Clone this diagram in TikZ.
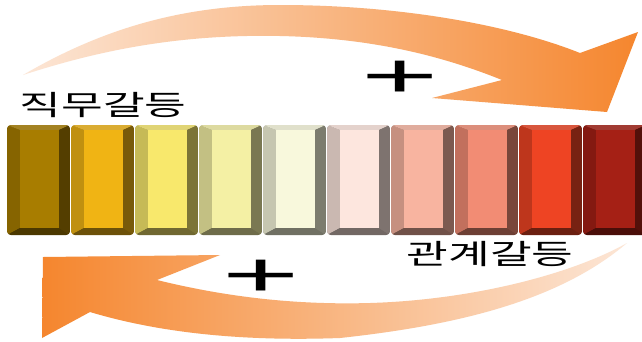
\documentclass[tikz,border=0pt]{standalone}
\usepackage{fontspec}
\newfontfamily\krfont{Noto Sans CJK KR}
\newfontfamily\plusfont{Liberation Sans}
\definecolor{b1}{HTML}{A87D00}
\definecolor{b2}{HTML}{F0B414}
\definecolor{b3}{HTML}{F8E86C}
\definecolor{b4}{HTML}{F4F0A4}
\definecolor{b5}{HTML}{F8F8DC}
\definecolor{b6}{HTML}{FDE6DE}
\definecolor{b7}{HTML}{F8B4A0}
\definecolor{b8}{HTML}{F28C74}
\definecolor{b9}{HTML}{EE4423}
\definecolor{b10}{HTML}{A52015}
\definecolor{arrowhead}{HTML}{F5862E}
\definecolor{arrowmid}{HTML}{F8BE94}
\definecolor{arrowpale}{HTML}{FCE6D6}
\tikzset{
  krtext/.style={inner sep=0pt, font=\krfont\fontsize{28}{28}\selectfont},
  plussign/.style={inner sep=0pt, font=\plusfont\fontsize{63}{63}\selectfont},
}
\begin{document}
\begin{tikzpicture}[x=1pt,y=-1pt]
\fill[white] (0,0) rectangle (642,341);
\useasboundingbox (0,0) rectangle (642,341);
% bars
\foreach \i/\c in {0/b1,1/b2,2/b3,3/b4,4/b5,5/b6,6/b7,7/b8,8/b9,9/b10}{
  \pgfmathsetmacro{\bx}{7+64*\i}
  \begin{scope}[shift={(\bx,0)}]
    \begin{scope}
      \clip[rounded corners=4pt] (0,125) rectangle (63,235);
      \fill[\c!50!black] (0,125) rectangle (63,235);
      \fill[\c!80!black] (0,125) -- (13,130) -- (13,228) -- (0,235) -- cycle;
      \fill[\c!85!white!90!black] (0,125) -- (63,125) -- (52,130) -- (13,130) -- cycle;
      \fill[\c!45!black] (0,235) -- (13,228) -- (52,228) -- (63,235) -- cycle;
      \fill[\c!50!black] (63,125) -- (52,130) -- (52,228) -- (63,235) -- cycle;
      \fill[\c] (13,130) rectangle (52,228);
    \end{scope}
  \end{scope}
}
% top arrow
\shade[left color=arrowpale, middle color=arrowmid, right color=arrowhead]
  (23,75) .. controls (100,30) and (180,5) .. (280,5)
  .. controls (400,5) and (510,25) .. (580,53)
  -- (638,32) -- (607,112) -- (432,98) -- (502,80)
  .. controls (440,55) and (370,38) .. (280,36)
  .. controls (180,34) and (100,50) .. (23,75) -- cycle;
% bottom arrow
\shade[left color=arrowhead, middle color=arrowmid, right color=arrowpale]
  (43,257) -- (220,255) -- (157,280)
  .. controls (230,298) and (300,305) .. (370,303)
  .. controls (470,300) and (570,275) .. (627,243)
  .. controls (560,300) and (460,325) .. (340,338)
  .. controls (230,342) and (150,330) .. (90,312)
  -- (42,338) -- cycle;
% texts
\node[krtext] (job) at (103,105) {\scalebox{1.62}[1]{직무갈등}};
\node[krtext] (rel) at (490,254) {\scalebox{1.62}[1]{관계갈등}};
\node[plussign] (p1) at (400,79) {\scalebox{2.1}[1]{+}};
\node[plussign] (p2) at (261,278) {\scalebox{2.1}[1]{+}};
\end{tikzpicture}
\end{document}
